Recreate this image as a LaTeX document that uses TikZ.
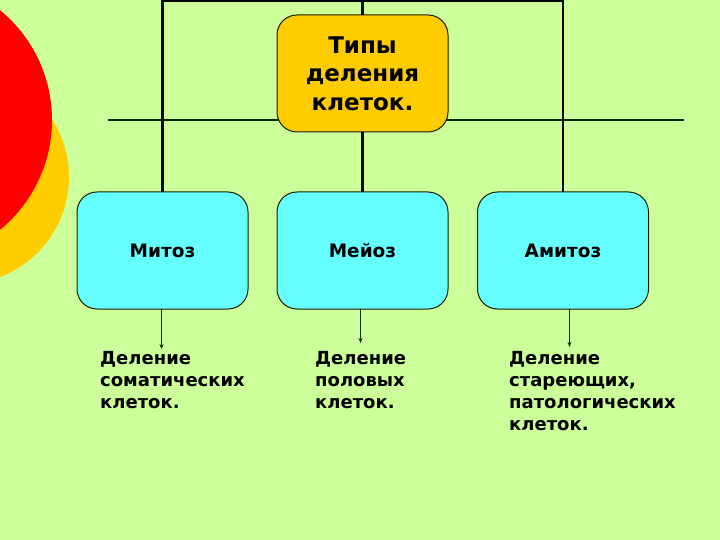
\documentclass[tikz,border=0pt]{standalone}
\usepackage{fontspec}
\setmainfont{DejaVu Sans}
\usetikzlibrary{arrows.meta}
\definecolor{bg}{HTML}{CCFF99}
\definecolor{gold}{HTML}{FFCC00}
\definecolor{cyanbox}{HTML}{66FFFF}
\definecolor{edge}{HTML}{1A1A00}
\tikzset{
  box/.style={draw=edge, line width=1pt, rounded corners=20pt, minimum width=171pt, minimum height=117pt, outer sep=0pt, inner sep=0pt, align=center, font=\bfseries\fontsize{18.5}{22}\selectfont},
  link/.style={draw=black, line width=2.4pt},
  arr/.style={draw=black!80!green, line width=1pt, -{Stealth[length=5pt,width=4pt]}},
  note/.style={anchor=north west, inner sep=0pt, align=left, font=\bfseries\fontsize{18}{22}\selectfont}
}
\begin{document}
\begin{tikzpicture}[x=1pt,y=-1pt]
\useasboundingbox (0,0) rectangle (720,540);
\fill[bg] (0,0) rectangle (720,540);
% decorative circles
\fill[gold] (-38,177) circle (107);
\fill[red] (-90,120) circle (142);
% horizontal line behind
\coordinate (hl) at (108,120);
\coordinate (hr) at (684,120);
\draw[line width=1.5pt, black!85!green] (hl) -- (hr);
% nodes
\node[box, fill=gold, font=\bfseries\fontsize{23}{28.5}\selectfont] (top) at (362.5,73.5) {Типы\\деления\\клеток.};
\node[box, fill=cyanbox] (mit) at (162.5,250.5) {Митоз};
\node[box, fill=cyanbox] (mei) at (362.5,250.5) {Мейоз};
\node[box, fill=cyanbox] (ami) at (563,250.5) {Амитоз};
% connectors
\coordinate (tl) at (162.5,1);
\coordinate (tr) at (563,1);
\draw[link] (mit.north) -- (tl) -- (tr) -- (ami.north);
\draw[link] (top.north) -- (top.north |- tl);
\draw[link] (top.south) -- (mei.north);
% arrows
\coordinate (a1) at (161.5,349);
\coordinate (a2) at (360.5,343);
\coordinate (a3) at (569.5,347);
\draw[arr] (a1 |- mit.south) -- (a1);
\draw[arr] (a2 |- mei.south) -- (a2);
\draw[arr] (a3 |- ami.south) -- (a3);
% notes
\node[note] (n1) at (100,351) {Деление\\соматических\\клеток.};
\node[note] (n2) at (315,351) {Деление\\половых\\клеток.};
\node[note] (n3) at (509,351) {Деление\\стареющих,\\патологических\\клеток.};
\end{tikzpicture}
\end{document}
